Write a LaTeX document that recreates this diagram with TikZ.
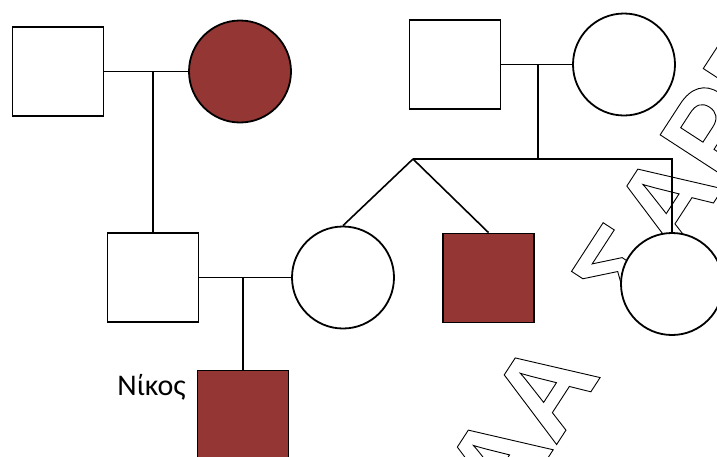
\documentclass[tikz,border=0pt]{standalone}
\usepackage{fontspec}
\setmainfont{Carlito}
\newfontfamily\wmfont{Liberation Sans Bold}
\definecolor{dred}{RGB}{148,54,52}
\newcommand\outlinetext[1]{\special{pdf:literal direct 1 Tr 0.9 w}#1\special{pdf:literal direct 0 Tr}}
\begin{document}
\begin{tikzpicture}[x=1pt,y=-1pt,
  male/.style={draw=black,line width=1.8pt,fill=white,rectangle,minimum width=91pt,minimum height=89pt,inner sep=0pt},
  female/.style={draw=black,line width=1.8pt,fill=white,circle,minimum size=102pt,inner sep=0pt},
  affected/.style={fill=dred},
  link/.style={line width=1.6pt,draw=black},
  wm/.style={rotate=57,anchor=base west,inner sep=0pt,outer sep=0pt,text=black,font=\wmfont\fontsize{119}{119}\selectfont}
]
\useasboundingbox (0,0) rectangle (717,456);
% watermark
\node[wm] (w1) at (508.1,519.2) {\outlinetext{Α}};
\node[wm] (w2) at (555,447) {\outlinetext{Α}};
\node[wm] (w3) at (636.8,321.2) {\outlinetext{Σ}};
\node[wm] (w4) at (677.6,258.2) {\outlinetext{Α}};
\node[wm] (w5) at (724.5,186.1) {\outlinetext{Ρ}};
\node[wm] (w6) at (767.6,119.8) {\outlinetext{Ε}};
% individuals
\node[male] (s1) at (58,71.5) {};
\node[female,affected] (c1) at (240,71.5) {};
\node[male] (s4) at (455,64.5) {};
\node[female] (c4) at (624,64.5) {};
\node[male] (s2) at (153,277.5) {};
\node[female] (c2) at (343,277.5) {};
\node[male,affected] (s3) at (488.5,278) {};
\node[female] (c3) at (672,284) {};
\node[male,affected] (s5) at (243,415) {};
\node[anchor=base east,inner sep=0pt,font=\fontsize{30}{30}\selectfont] (lbl) at (186,395) {Νίκος};
% connectors
\coordinate (m1) at (153,71.5);
\coordinate (m2) at (243,277.5);
\coordinate (m3) at (538,64.5);
\coordinate (m3d) at (538,159);
\coordinate (sib) at (413,159);
\coordinate (sibR) at (672,159);
\draw[link] (s1.east) -- (c1.west);
\draw[link] (m1) -- (s2.north);
\draw[link] (s2.east) -- (c2.west);
\draw[link] (m2) -- (s5.north);
\draw[link] (s4.east) -- (c4.west);
\draw[link] (m3) -- (m3d);
\draw[link] (sib) -- (sibR) -- (c3.north);
\draw[link] (sib) -- (c2.north);
\draw[link] (sib) -- (s3.north);
\end{tikzpicture}
\end{document}
